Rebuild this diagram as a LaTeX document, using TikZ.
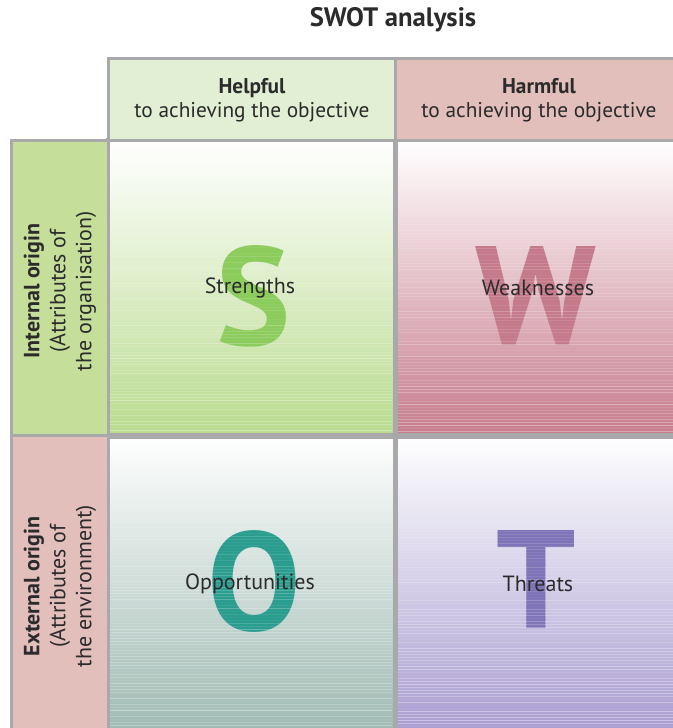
\documentclass[tikz,border=0pt]{standalone}
\usepackage{fontspec}
\setmainfont{PT Sans}
\usepackage{tikz}
\usetikzlibrary{positioning, calc}
\definecolor{gridgray}{HTML}{A9A9AB}
\definecolor{helpbg}{HTML}{E2EFD4}
\definecolor{harmbg}{HTML}{E2BFBB}
\definecolor{intbg}{HTML}{C5DF9B}
\definecolor{sgreen}{HTML}{B9DB8E}
\definecolor{wred}{HTML}{C67B8C}
\definecolor{oteal}{HTML}{9FBAB2}
\definecolor{tlilac}{HTML}{A99DD0}
\definecolor{sletter}{HTML}{8CCC5C}
\definecolor{wletter}{HTML}{C47A8B}
\definecolor{oletter}{HTML}{2A9D8F}
\definecolor{tletter}{HTML}{7F74B8}
\definecolor{labeltext}{HTML}{2B2B2B}

\begin{document}
\begin{tikzpicture}[
    x=0.75pt, y=-0.75pt,
    cell/.style={rectangle, draw=gridgray, line width=2.2pt, anchor=north west,
                 minimum width=215.25pt, minimum height=221.6pt, inner sep=0pt},
    head/.style={rectangle, draw=gridgray, line width=2.2pt, anchor=north west,
                 minimum width=215.25pt, minimum height=61.5pt, inner sep=0pt},
    side/.style={rectangle, draw=gridgray, line width=2.2pt, anchor=north west,
                 minimum width=72.75pt, minimum height=221.6pt, inner sep=0pt},
    bigletter/.style={font=\fontsize{105}{105}\selectfont\bfseries, inner sep=0pt},
    celltext/.style={font=\fontsize{16.5}{18}\selectfont, text=labeltext},
    headtext/.style={font=\fontsize{16}{18}\selectfont, text=labeltext, align=center},
    sidetext/.style={font=\fontsize{16.5}{19.5}\selectfont, text=labeltext, align=center, rotate=90}
]
\useasboundingbox (0,0) rectangle (673,728);

% quadrants
\node[cell, shade, top color=white, bottom color=sgreen]  (cellS) at (107,139) {};
\node[cell, shade, top color=white, bottom color=wred]    (cellW) at (394,139) {};
\node[cell, shade, top color=white, bottom color=oteal]   (cellO) at (107,434) {};
\node[cell, shade, top color=white, bottom color=tlilac]  (cellT) at (394,434) {};

% big letters
\node[bigletter, text=sletter] (letS) at ($(cellS.center)+(2,8)$) {S};
\node[bigletter, text=wletter] (letW) at ($(cellW.center)+(-3,8)$) {W};
\node[bigletter, text=oletter] (letO) at ($(cellO.center)+(2,-2)$) {O};
\node[bigletter, text=tletter] (letT) at ($(cellT.center)+(-3,-4)$) {T};

% streaks
\pgfmathsetseed{7}
\foreach \y in {142,145,...,430} {
  \pgfmathsetmacro{\op}{rnd*0.4*(\y-139)/295}
  \draw[white, opacity=\op, line width=0.6pt] (109,\y) -- (392,\y);
  \pgfmathsetmacro{\opb}{rnd*0.4*(\y-139)/295}
  \draw[white, opacity=\opb, line width=0.6pt] (396,\y+1) -- (673,\y+1);
}
\foreach \y in {437,440,...,728} {
  \pgfmathsetmacro{\op}{rnd*0.45*(\y-434)/294}
  \draw[white, opacity=\op, line width=0.6pt] (109,\y) -- (392,\y);
  \pgfmathsetmacro{\opb}{rnd*0.45*(\y-434)/294}
  \draw[white, opacity=\opb, line width=0.6pt] (396,\y+1) -- (673,\y+1);
}
\draw[gridgray, line width=2.2pt] (cellS.north west) rectangle (cellS.south east);
\draw[gridgray, line width=2.2pt] (cellW.north west) rectangle (cellW.south east);
\draw[gridgray, line width=2.2pt] (cellO.north west) rectangle (cellO.south east);
\draw[gridgray, line width=2.2pt] (cellT.north west) rectangle (cellT.south east);

\node[celltext] (strengths) at ($(cellS.center)+(-2,0)$) {Strengths};
\node[celltext] (weakness)  at ($(cellW.center)+(-1,0)$) {Weaknesses};
\node[celltext] (opport)    at ($(cellO.center)+(-2,1)$) {Opportunities};
\node[celltext] (threats)   at ($(cellT.center)+(-1,1)$) {Threats};

% header row
\node[head, fill=helpbg] (helpful) at (107,57) {};
\node[head, fill=harmbg] (harmful) at (394,57) {};
\node[headtext] at ($(helpful.center)+(0,1)$) {\textbf{Helpful}\\to achieving the objective};
\node[headtext] at ($(harmful.center)+(0,1)$) {\textbf{Harmful}\\to achieving the objective};

% side column
\node[side, fill=intbg] (internal) at (10,139) {};
\node[side, fill=harmbg] (external) at (10,434) {};
\node[sidetext] at ($(internal.center)+(0,3)$) {\textbf{Internal origin}\\(Attributes of\\the organisation)};
\node[sidetext] at ($(external.center)+(0,3)$) {\textbf{External origin}\\(Attributes of\\the environment)};

% title
\node[font=\fontsize{20}{22}\selectfont\bfseries, text=labeltext] (title) at (393,20) {SWOT analysis};
\end{tikzpicture}
\end{document}
